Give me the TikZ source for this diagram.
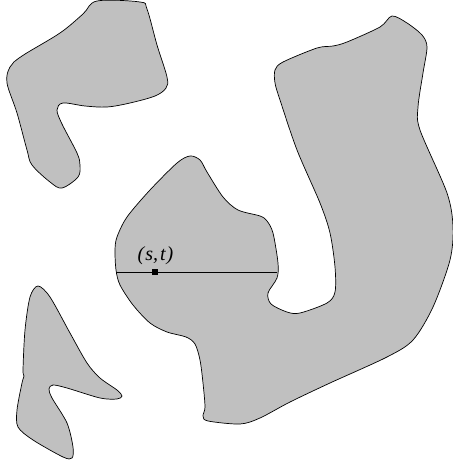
\documentclass[tikz,border=0pt]{standalone}
\usepackage{fontspec}
\setmainfont{Liberation Serif}
\usetikzlibrary{positioning}
\definecolor{regionc}{RGB}{192,192,192}

\begin{document}
\begin{tikzpicture}[x=1pt, y=-1pt,
    region/.style={draw=black, fill=regionc, line width=0.7pt},
    pt/.style={fill=black, inner sep=0pt, minimum size=5.5pt}]
  \useasboundingbox (0,0) rectangle (452,465);
  % upper left piece
  \draw[region] plot[smooth cycle, tension=0.55] coordinates {
    (97,1) (140,2) (147,9) (157,45) (167,77) (166,88) (155,96) (130,103)
    (107,107) (85,106) (63,103) (57,110) (62,124) (77,153) (80,165)
    (78,177) (62,188) (50,182) (32,165) (27,150) (17,113) (7,83) (10,67)
    (22,56) (60,33) (83,14)};
  % big piece
  \draw[region] plot[smooth cycle, tension=0.5] coordinates {
    (190,156) (200,160) (207,172) (223,197) (238,210) (260,216) (267,221)
    (273,233) (278,263) (277,278) (268,293) (271,304) (287,312) (300,313)
    (327,303) (335,292) (335,267) (330,233) (320,203) (297,150) (280,100)
    (275,83) (275,70) (283,62) (317,48) (333,46) (347,42) (380,27)
    (392,16) (407,23) (422,35) (427,47) (423,73) (418,107) (420,130)
    (447,193) (453,227) (450,260) (433,307) (413,340) (387,357) (330,383)
    (290,402) (260,418) (240,424) (208,421) (203,416) (205,407) (203,383)
    (200,360) (195,344) (186,337) (167,332) (150,323) (133,305) (120,285)
    (116,270) (115,250) (117,237) (127,217) (150,190) (177,163)};
  % lower left piece
  \draw[region] plot[smooth cycle, tension=0.5] coordinates {
    (38,286) (50,297) (70,333) (87,363) (100,378) (117,390) (122,396)
    (117,399) (100,398) (67,388) (53,385) (49,389) (52,398) (67,423)
    (73,447) (72,458) (63,457) (33,440) (18,427) (17,410) (22,383)
    (24,376) (23,370) (25,330) (30,297)};
  % section through (s,t)
  \coordinate (west) at (116,272);
  \coordinate (east) at (277,272);
  \draw[line width=0.9pt] (west) -- (east);
  \node[pt] (st) at (155,272) {};
  \node[font=\itshape\fontsize{20}{24}\selectfont, above=1pt of st, xshift=0.5pt]
    (stlabel) {(\kern1pt s,\kern2pt t\kern1pt)};
\end{tikzpicture}
\end{document}
